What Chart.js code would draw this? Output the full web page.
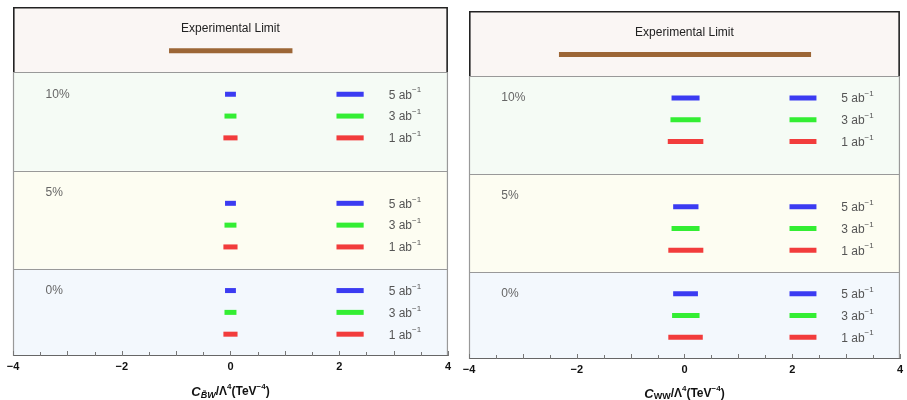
<!DOCTYPE html>
<html>
<head>
<meta charset="utf-8">
<script src="https://cdn.jsdelivr.net/npm/chart.js@4/dist/chart.umd.min.js"></script>
<style>
    body { margin: 0; background: #fff; width: 907px; height: 400px; overflow: hidden; }
    .panel { position: absolute; top: 0; height: 400px; }
</style>
</head>
<body>
<div class="panel" style="left:0;width:455px"><canvas id="bwChart" width="455" height="400"></canvas></div>
<div class="panel" style="left:455px;width:452px"><canvas id="wwChart" width="452" height="400"></canvas></div>
<script>
// Data
const uncertainties = ['10%', '5%', '0%'];
const luminosities = ['5', '3', '1']; // ab^-1
const xTickLabels = [-4, -2, 0, 2, 4];

// C_BW / Lambda^4 intervals, one [low, high] per uncertainty (10%, 5%, 0%)
const bwLimit = [-1.13, 1.14];
const bw5 = [[-0.10, 0.10], [-0.10, 0.10], [-0.10, 0.10]];
const bw3 = [[-0.11, 0.11], [-0.11, 0.11], [-0.11, 0.11]];
const bw1 = [[-0.13, 0.13], [-0.13, 0.13], [-0.13, 0.13]];

// C_WW / Lambda^4 intervals
const wwLimit = [-2.33, 2.35];
const ww5 = [[-0.24, 0.28], [-0.21, 0.26], [-0.21, 0.25]];
const ww3 = [[-0.26, 0.30], [-0.24, 0.28], [-0.23, 0.28]];
const ww1 = [[-0.31, 0.35], [-0.30, 0.35], [-0.30, 0.34]];

// Layout (y units: one row = 1)
const rowBase = [9, 4, 0];             // lowest row of each uncertainty band
const limitRow = 14;
const bandEdges = [0, 4, 8.5, 13, 16];
const bandFill = ['#f3f8fd', '#fdfdf2', '#f5fbf5', '#faf6f4'];
const bandLabelY = [12, 7.5, 3];
const lumiColors = ['#3b3bf2', '#33ee33', '#f23c3c'];
const limitColor = '#9c6636';
const legendSpan = [1.95, 2.45];
const FONT = "'Liberation Sans', Arial, sans-serif";

Chart.defaults.font.family = FONT;

function drawParts(ctx, parts, cx, cy, align) {
    let w = 0;
    parts.forEach(p => { ctx.font = p.font; w += ctx.measureText(p.t).width; });
    let x = align === 'left' ? cx : cx - w / 2;
    ctx.textBaseline = 'middle';
    ctx.textAlign = 'left';
    parts.forEach(p => {
        ctx.font = p.font;
        ctx.fillStyle = p.color;
        ctx.fillText(p.t, x, cy + (p.dy || 0));
        x += ctx.measureText(p.t).width;
    });
}

const panelDecor = {
    id: 'panelDecor',
    beforeDatasetsDraw(chart) {
        const { ctx, chartArea: a, scales: { x, y } } = chart;
        ctx.save();
        bandFill.forEach((c, i) => {
            const top = y.getPixelForValue(bandEdges[i + 1]);
            const bot = y.getPixelForValue(bandEdges[i]);
            ctx.fillStyle = c;
            ctx.fillRect(a.left, top, a.right - a.left, bot - top);
        });
        ctx.restore();
    },
    afterDatasetsDraw(chart, args, opts) {
        const { ctx, chartArea: a, scales: { x, y } } = chart;
        ctx.save();

        // gray frame of lower bands
        ctx.strokeStyle = '#999';
        ctx.lineWidth = 1.2;
        ctx.beginPath();
        [bandEdges[1], bandEdges[2]].forEach(v => {
            const py = Math.round(y.getPixelForValue(v)) + 0.5;
            ctx.moveTo(a.left, py); ctx.lineTo(a.right, py);
        });
        const yLim = y.getPixelForValue(bandEdges[3]);
        ctx.moveTo(a.left + 0.5, yLim); ctx.lineTo(a.left + 0.5, a.bottom);
        ctx.moveTo(a.right - 0.5, yLim); ctx.lineTo(a.right - 0.5, a.bottom);
        ctx.stroke();

        // bottom axis line
        ctx.strokeStyle = '#666';
        ctx.beginPath();
        ctx.moveTo(a.left, a.bottom - 0.5); ctx.lineTo(a.right, a.bottom - 0.5);
        ctx.stroke();

        // ticks pointing inward
        ctx.lineWidth = 1;
        ctx.strokeStyle = '#777';
        ctx.beginPath();
        x.ticks.forEach(t => {
            const px = Math.round(x.getPixelForValue(t.value)) + 0.5;
            const len = Number.isInteger(t.value) ? 5 : 4;
            ctx.moveTo(px, a.bottom); ctx.lineTo(px, a.bottom - len);
        });
        ctx.stroke();

        // dark frame around experimental band
        ctx.strokeStyle = '#222';
        ctx.lineWidth = 1.6;
        ctx.beginPath();
        ctx.moveTo(a.left + 0.8, yLim);
        ctx.lineTo(a.left + 0.8, a.top + 0.8);
        ctx.lineTo(a.right - 0.8, a.top + 0.8);
        ctx.lineTo(a.right - 0.8, yLim);
        ctx.stroke();
        ctx.strokeStyle = '#999';
        ctx.lineWidth = 1.2;
        ctx.beginPath();
        ctx.moveTo(a.left, Math.round(yLim) + 0.5); ctx.lineTo(a.right, Math.round(yLim) + 0.5);
        ctx.stroke();

        // experimental limit caption
        ctx.fillStyle = '#222';
        ctx.font = '12px ' + FONT;
        ctx.textAlign = 'center';
        ctx.textBaseline = 'middle';
        ctx.fillText('Experimental Limit', x.getPixelForValue(0), y.getPixelForValue(15));

        // band labels and luminosity keys
        uncertainties.forEach((u, b) => {
            ctx.fillStyle = '#666';
            ctx.font = '12px ' + FONT;
            ctx.textAlign = 'left';
            ctx.textBaseline = 'middle';
            ctx.fillText(u, x.getPixelForValue(-3.4), y.getPixelForValue(bandLabelY[b]));
            luminosities.forEach((l, i) => {
                const py = y.getPixelForValue(rowBase[b] + 3 - i);
                const x0 = x.getPixelForValue(legendSpan[0]);
                const x1 = x.getPixelForValue(legendSpan[1]);
                ctx.fillStyle = lumiColors[i];
                ctx.fillRect(x0, py - 2.5, x1 - x0, 5);
                drawParts(ctx, [
                    { t: l + ' ab', font: '12px ' + FONT, color: '#555', dy: 1 },
                    { t: '\u22121', font: '8px ' + FONT, color: '#555', dy: -4 }
                ], x.getPixelForValue(2.91), py, 'left');
            });
        });

        // axis title
        drawParts(ctx, opts.title, x.getPixelForValue(0), a.bottom + opts.titleOffset, 'center');
        ctx.restore();
    }
};

function makeDatasets(limit, sets) {
    const ds = [{
        data: [{ x: limit, y: limitRow }],
        backgroundColor: limitColor
    }];
    sets.forEach((s, i) => {
        ds.push({
            label: luminosities[i] + ' ab-1',
            data: s.map((r, b) => ({ x: r, y: rowBase[b] + 3 - i })),
            backgroundColor: lumiColors[i]
        });
    });
    return ds;
}

function buildChart(id, limit, sets, pad, axisH, title, titleOffset) {
    return new Chart(document.getElementById(id), {
        type: 'bar',
        data: { datasets: makeDatasets(limit, sets) },
        options: {
            indexAxis: 'y',
            responsive: false,
            animation: false,
            devicePixelRatio: 1,
            grouped: false,
            maxBarThickness: 5,
            layout: { padding: pad },
            scales: {
                x: {
                    type: 'linear', min: -4, max: 4,
                    grid: { display: false, drawTicks: false },
                    border: { display: false },
                    ticks: {
                        stepSize: 0.5, autoSkip: false, maxRotation: 0, padding: 4,
                        color: '#111', font: { size: 11, weight: 'bold' },
                        callback: v => xTickLabels.includes(v) ? (v < 0 ? '\u2212' + (-v) : String(v)) : ''
                    },
                    afterFit: s => { s.height = axisH; }
                },
                y: {
                    type: 'linear', min: 0, max: 16, display: false,
                    offset: false, grid: { offset: false }
                }
            },
            plugins: {
                legend: { display: false },
                tooltip: { enabled: false },
                panelDecor: { title, titleOffset }
            }
        },
        plugins: [panelDecor]
    });
}

const B = 'bold ';
buildChart('bwChart', bwLimit, [bw5, bw3, bw1], { left: 13, right: 7, top: 7, bottom: 0 }, 44, [
    { t: 'C', font: 'italic bold 13px ' + FONT, color: '#111' },
    { t: 'B\u0303W', font: 'italic bold 9px ' + FONT, color: '#111', dy: 4 },
    { t: '/\u039B', font: B + '12px ' + FONT, color: '#111' },
    { t: '4', font: B + '8px ' + FONT, color: '#111', dy: -5 },
    { t: '(TeV', font: B + '12px ' + FONT, color: '#111' },
    { t: '\u22124', font: B + '8px ' + FONT, color: '#111', dy: -5 },
    { t: ')', font: B + '12px ' + FONT, color: '#111' }
], 36);

buildChart('wwChart', wwLimit, [ww5, ww3, ww1], { left: 14, right: 3, top: 11, bottom: 0 }, 41, [
    { t: 'C', font: 'italic bold 13px ' + FONT, color: '#111' },
    { t: 'WW', font: B + '9px ' + FONT, color: '#111', dy: 3 },
    { t: '/\u039B', font: B + '12px ' + FONT, color: '#111' },
    { t: '4', font: B + '8px ' + FONT, color: '#111', dy: -5 },
    { t: '(TeV', font: B + '12px ' + FONT, color: '#111' },
    { t: '\u22124', font: B + '8px ' + FONT, color: '#111', dy: -5 },
    { t: ')', font: B + '12px ' + FONT, color: '#111' }
], 35);
</script>
</body>
</html>
